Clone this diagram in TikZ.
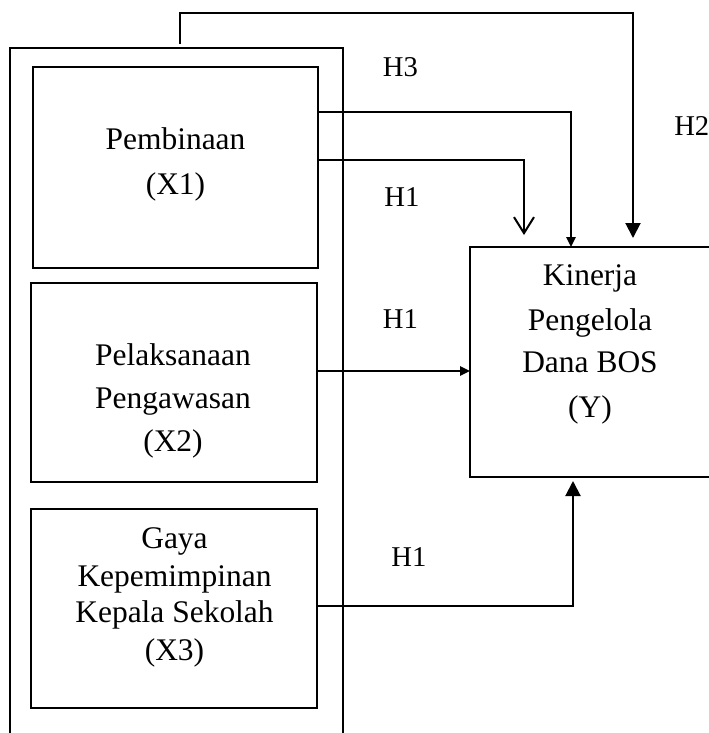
\documentclass[tikz,border=0pt]{standalone}
\usepackage{fontspec}
\setmainfont{Liberation Serif}
\usetikzlibrary{arrows.meta}
\begin{document}
\begin{tikzpicture}[x=0.75pt,y=-0.75pt,
  box/.style={draw,line width=1.5pt,inner sep=0pt,outer sep=0pt,rectangle},
  txt/.style={anchor=base,inner sep=0pt,font=\fontsize{23.6}{28}\selectfont},
  hlbl/.style={anchor=base,inner sep=0pt,font=\fontsize{21.5}{26}\selectfont},
  conn/.style={line width=1.5pt},
  bigtip/.style={-{Triangle[length=11.25pt,width=11.25pt]}},
  smalltip/.style={-{Triangle[length=7.5pt,width=7pt]}},
  opentip/.style={-{Straight Barb[length=12pt,width=15pt,line width=1.5pt]}}]
\useasboundingbox (0,0) rectangle (708,733);
% outer frame (open at bottom)
\draw[line width=1.5pt] (10,745) -- (10,48) -- (343,48) -- (343,745);
% boxes
\node[box,minimum width=213.75pt,minimum height=150.75pt] (x1) at (175.5,167.5) {};
\node[box,minimum width=214.5pt,minimum height=149.25pt] (x2) at (174,382.5) {};
\node[box,minimum width=214.5pt,minimum height=149.25pt] (x3) at (174,608.5) {};
\node[box,minimum width=187.5pt,minimum height=172.5pt] (y) at (595,362) {};
% texts
\node[txt] (x1a) at (175.5,149) {Pembinaan};
\node[txt] (x1b) at (175.5,194) {(X1)};
\node[txt] (x2a) at (173,365) {Pelaksanaan};
\node[txt] (x2b) at (173,408) {Pengawasan};
\node[txt] (x2c) at (173,451) {(X2)};
\node[txt] (x3a) at (174.5,548) {Gaya};
\node[txt] (x3b) at (174.5,586) {Kepemimpinan};
\node[txt] (x3c) at (174.5,622) {Kepala Sekolah};
\node[txt] (x3d) at (174.5,660) {(X3)};
\node[txt] (ya) at (590,285) {Kinerja};
\node[txt] (yb) at (590,330) {Pengelola};
\node[txt] (yc) at (590,372) {Dana BOS};
\node[txt] (yd) at (590,417) {(Y)};
% hypothesis labels
\node[hlbl] (h3) at (400.5,76) {H3};
\node[hlbl,anchor=base west] (h2) at (674,135) {H2};
\node[hlbl] (h1a) at (402,206) {H1};
\node[hlbl] (h1b) at (400.5,328) {H1};
\node[hlbl] (h1c) at (409,566) {H1};
% connector coordinates
\coordinate (h2s) at (180,44);
\coordinate (h2a) at (180,13);
\coordinate (h2b) at (633,13);
\coordinate (h3c) at (571,112);
\coordinate (h1t) at (524,160);
\coordinate (h1m) at (0,371);
\coordinate (h1l) at (573,606);
% connectors
\draw[conn,bigtip,shorten >=6.75pt] (h2s) -- (h2a) -- (h2b) -- (y.north -| h2b);
\draw[conn,smalltip] (x1.east |- h3c) -- (h3c) -- (y.north -| h3c);
\draw[conn,opentip,shorten >=9pt] (x1.east |- h1t) -- (h1t) -- (y.north -| h1t);
\draw[conn,smalltip] (x2.east |- h1m) -- (y.west |- h1m);
\draw[conn,bigtip,shorten >=3pt] (x3.east |- h1l) -- (h1l) -- (y.south -| h1l);
\end{tikzpicture}
\end{document}
